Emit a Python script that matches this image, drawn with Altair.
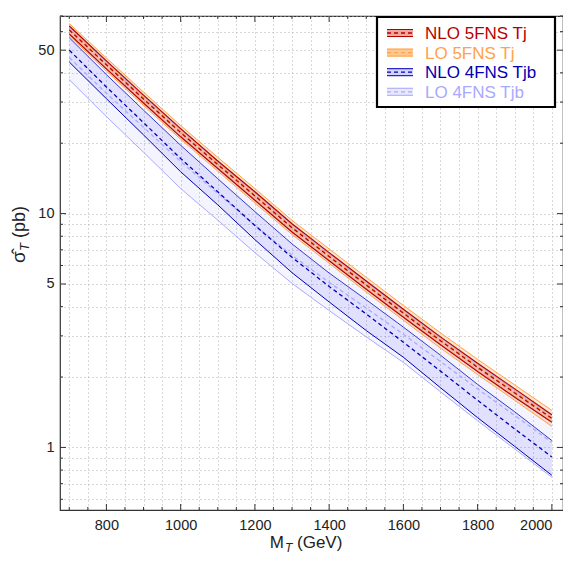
import altair as alt
import pandas as pd

# ---------------- data ----------------
mass = [700, 800, 900, 1000, 1100, 1200, 1300, 1400, 1500, 1600, 1700, 1800, 1900, 2000]

nlo5_c  = [61.0, 43.3, 30.9, 22.2, 16.2, 11.9, 8.70, 6.55, 4.95, 3.75, 2.86, 2.20, 1.71, 1.33]
nlo5_hi = [63.4, 45.0, 32.1, 23.1, 16.8, 12.4, 9.05, 6.81, 5.15, 3.90, 2.97, 2.29, 1.78, 1.38]
nlo5_lo = [58.6, 41.6, 29.7, 21.3, 15.6, 11.4, 8.35, 6.29, 4.75, 3.60, 2.75, 2.11, 1.64, 1.28]

lo5_c  = [61.6, 43.7, 31.2, 22.4, 16.4, 12.0, 8.79, 6.62, 5.00, 3.79, 2.89, 2.22, 1.73, 1.34]
lo5_hi = [65.0, 46.3, 33.1, 23.8, 17.4, 12.8, 9.36, 7.06, 5.34, 4.05, 3.09, 2.38, 1.85, 1.44]
lo5_lo = [57.5, 40.7, 29.0, 20.8, 15.2, 11.1, 8.14, 6.13, 4.62, 3.50, 2.66, 2.05, 1.59, 1.23]

nlo4_c  = [50.0, 34.8, 24.5, 17.2, 12.4, 8.90, 6.50, 4.88, 3.72, 2.82, 2.12, 1.59, 1.20, 0.91]
nlo4_hi = [56.5, 39.3, 27.7, 19.6, 14.1, 10.2, 7.42, 5.57, 4.28, 3.27, 2.48, 1.86, 1.42, 1.07]
nlo4_lo = [44.5, 31.0, 21.7, 15.1, 10.9, 7.74, 5.59, 4.19, 3.16, 2.43, 1.80, 1.34, 1.01, 0.76]

lo4_c  = [46.5, 32.7, 23.4, 16.7, 12.2, 8.90, 6.63, 5.08, 3.94, 3.05, 2.33, 1.78, 1.37, 1.05]
lo4_hi = [62.8, 44.6, 31.8, 22.9, 16.7, 12.3, 8.96, 6.75, 5.10, 3.86, 2.95, 2.27, 1.76, 1.37]
lo4_lo = [37.4, 26.0, 18.3, 12.8, 9.37, 6.81, 5.03, 3.85, 2.97, 2.31, 1.73, 1.30, 0.985, 0.745]

x_grid = list(range(700, 2001, 50))
x_major = [800, 1000, 1200, 1400, 1600, 1800, 2000]
x_minor = [v for v in x_grid if v not in x_major]
y_grid = [0.6, 0.7, 0.8, 0.9, 1, 2, 3, 4, 5, 6, 7, 8, 9, 10, 20, 30, 40, 50, 60, 70]
y_major = [1, 5, 10, 50]
y_minor = [v for v in y_grid if v not in y_major]

legend_labels = ["NLO 5FNS Tj", "LO 5FNS Tj", "NLO 4FNS Tjb", "LO 4FNS Tjb"]

# ---------------- styling ----------------
W, H = 503, 494
FONT = "Liberation Sans"
C_NLO5, C_LO5, C_NLO4, C_LO4 = "#b80000", "#ffa24a", "#0000b4", "#a9a9ff"
F_NLO5, F_LO5, F_NLO4, F_LO4 = ("#d82000", 0.18), ("#ff8c1a", 0.22), ("#2020ff", 0.09), ("#3030ff", 0.05)

df = pd.DataFrame({
    "M": mass,
    "nlo5_c": nlo5_c, "nlo5_hi": nlo5_hi, "nlo5_lo": nlo5_lo,
    "lo5_c": lo5_c, "lo5_hi": lo5_hi, "lo5_lo": lo5_lo,
    "nlo4_c": nlo4_c, "nlo4_hi": nlo4_hi, "nlo4_lo": nlo4_lo,
    "lo4_c": lo4_c, "lo4_hi": lo4_hi, "lo4_lo": lo4_lo,
})

xs = alt.Scale(domain=[675, 2030], nice=False, zero=False)
ys = alt.Scale(type="log", domain=[0.54, 70], nice=False)

x_axis = alt.Axis(values=x_grid, grid=True, gridDash=[1, 3], gridColor="#b0b0b0", gridWidth=1,
                  ticks=False, domain=False, title=None, labelFont=FONT, labelFontSize=14.5,
                  labelColor="#222", labelPadding=8, format="d", labelFlush=12,
                  labelExpr="datum.value % 200 == 0 ? datum.label : ''")
y_axis = alt.Axis(values=y_grid, grid=True, gridDash=[1, 3], gridColor="#b0b0b0", gridWidth=1,
                  ticks=False, domain=False, title=None, labelFont=FONT, labelFontSize=14.5,
                  labelColor="#222", labelPadding=6,
                  labelExpr="datum.value == 1 ? '1' : datum.value == 5 ? '5' : datum.value == 10 ? '10' : datum.value == 50 ? '50' : ''")

base = alt.Chart(df)


def X(field="M"):
    return alt.X(f"{field}:Q", scale=xs, axis=x_axis)


def Y(field):
    return alt.Y(f"{field}:Q", scale=ys, axis=y_axis)


def band(lo, hi, fill):
    return base.mark_area(color=fill[0], opacity=fill[1], clip=True).encode(
        x=X(), y=Y(lo), y2=f"{hi}:Q")


def line(col, color, dash=False, width=1.0):
    kw = dict(color=color, strokeWidth=width, clip=True)
    if dash:
        kw["strokeDash"] = [4, 3]
    return base.mark_line(**kw).encode(x=X(), y=Y(col))


layers = [
    band("lo4_lo", "lo4_hi", F_LO4),
    band("nlo4_lo", "nlo4_hi", F_NLO4),
    band("lo5_lo", "lo5_hi", F_LO5),
    band("nlo5_lo", "nlo5_hi", F_NLO5),
    line("lo4_lo", C_LO4), line("lo4_hi", C_LO4), line("lo4_c", C_LO4, dash=True, width=1.3),
    line("nlo4_lo", C_NLO4), line("nlo4_hi", "#3a3ac8"), line("nlo4_c", C_NLO4, dash=True, width=1.3),
    line("lo5_lo", C_LO5), line("lo5_hi", C_LO5), line("lo5_c", C_LO5, dash=True, width=1.3),
    line("nlo5_lo", C_NLO5, width=1.2), line("nlo5_hi", C_NLO5, width=1.2),
    line("nlo5_c", C_NLO5, dash=True, width=1.3),
]


# inward ticks on all four sides
def xticks(vals, length):
    d = pd.DataFrame({"M": vals})
    out = []
    for y0, y1 in [(H, H - length), (0, length)]:
        out.append(alt.Chart(d).mark_rule(color="#333", strokeWidth=1).encode(
            x=X(), y=alt.value(y0), y2=alt.value(y1)))
    return out


def yticks(vals, length):
    d = pd.DataFrame({"v": vals})
    out = []
    for x0, x1 in [(0, length), (W, W - length)]:
        out.append(alt.Chart(d).mark_rule(color="#333", strokeWidth=1).encode(
            y=Y("v"), x=alt.value(x0), x2=alt.value(x1)))
    return out


layers += xticks(x_major, 6) + xticks(x_minor, 3) + yticks(y_major, 6) + yticks(y_minor, 3)

one = pd.DataFrame({"a": [0]})


def txt(s, x, y, size=17, color="#222", angle=0, align="left", style="normal", baseline="alphabetic"):
    kw = dict(text=s, font=FONT, fontSize=size, color=color, align=align, baseline=baseline, fontStyle=style)
    if angle:
        kw["angle"] = angle
    return alt.Chart(one).mark_text(**kw).encode(x=alt.value(x), y=alt.value(y))


# axis titles (with subscripts)
layers += [
    txt("M", 224, 532, align="right"),
    txt("T", 225, 536, size=12, style="italic"),
    txt("(GeV)", 237, 532),
    txt("σ\u0302", -35, 247, size=19, angle=270, align="left"),
    txt("T", -31, 235, size=13, angle=270, align="left", style="italic"),
    txt("(pb)", -35, 222, size=18, angle=270, align="left"),
]

# legend box
LX0, LX1, LY0, LY1 = 317, 495, 1, 91
layers.append(alt.Chart(one).mark_rect(fill="white", stroke="black", strokeWidth=2.2).encode(
    x=alt.value(LX0), x2=alt.value(LX1), y=alt.value(LY0), y2=alt.value(LY1)))

entries = [(C_NLO5, F_NLO5), (C_LO5, F_LO5), (C_NLO4, F_NLO4), (C_LO4, F_LO4)]
for i, (lab, (col, fill)) in enumerate(zip(legend_labels, entries)):
    yc = 17 + i * 19.6
    fill_op = min(1.0, fill[1] * 2.2)
    layers.append(alt.Chart(one).mark_rect(color=fill[0], opacity=fill_op).encode(
        x=alt.value(327), x2=alt.value(353), y=alt.value(yc - 4), y2=alt.value(yc + 4)))
    for dy in (-3.5, 3.5):
        layers.append(alt.Chart(one).mark_rule(color=col, strokeWidth=1).encode(
            x=alt.value(327), x2=alt.value(353), y=alt.value(yc + dy)))
    layers.append(alt.Chart(one).mark_rule(color=col, strokeWidth=1.3, strokeDash=[4, 3]).encode(
        x=alt.value(327), x2=alt.value(353), y=alt.value(yc)))
    layers.append(txt(lab, 365, yc + 1, size=17, color=col, baseline="middle"))

chart = alt.layer(*layers).properties(
    width=W, height=H, autosize="none",
    padding={"left": 52, "top": 8, "right": 0, "bottom": 44},
).configure_view(stroke="#333", strokeWidth=1.2)

chart.save("out.html", embed_options={"renderer": "svg", "actions": False})
